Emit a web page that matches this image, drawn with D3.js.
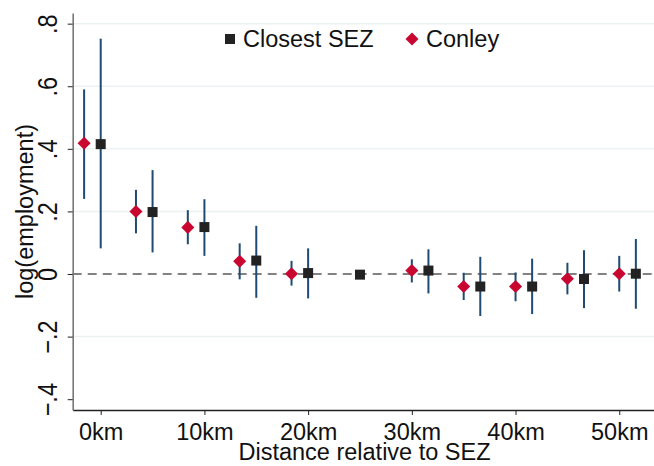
<!DOCTYPE html>
<html>
<head>
<meta charset="utf-8">
<script src="https://cdn.jsdelivr.net/npm/d3@7"></script>
<style>
  body { margin: 0; background: #fff; }
  text { font-family: "Liberation Sans", Arial, sans-serif; fill: #111; }
</style>
</head>
<body>
<div id="chart-area"></div>
<script>
// SVG Size
var width = 654,
    height = 466;

// Data
var distanceTicks = [0, 10, 20, 30, 40, 50];
var distanceLabels = ["0km", "10km", "20km", "30km", "40km", "50km"];
var yTicks = [-0.4, -0.2, 0, 0.2, 0.4, 0.6, 0.8];
var yLabels = ["\u2212.4", "\u2212.2", "0", ".2", ".4", ".6", ".8"];
var gridValues = [0.8, 0.6, 0.4, 0.2, -0.2];

// Closest SEZ (squares)
var closestX =  [0, 5, 10, 15, 20, 25, 31.6, 36.6, 41.6, 46.6, 51.6];
var closestY =  [0.415, 0.198, 0.150, 0.043, 0.003, -0.002, 0.011, -0.040, -0.040, -0.016, 0.001];
var closestLo = [0.082, 0.069, 0.058, -0.076, -0.078, null, -0.062, -0.134, -0.128, -0.109, -0.111];
var closestHi = [0.752, 0.332, 0.239, 0.154, 0.082, null, 0.079, 0.055, 0.049, 0.076, 0.112];

// Conley (diamonds)
var conleyX =  [-1.6, 3.4, 8.4, 13.4, 18.4, 30, 35, 40, 45, 50];
var conleyY =  [0.418, 0.200, 0.149, 0.041, 0.001, 0.011, -0.040, -0.040, -0.015, 0.001];
var conleyLo = [0.240, 0.130, 0.095, -0.017, -0.037, -0.027, -0.083, -0.087, -0.065, -0.056];
var conleyHi = [0.590, 0.269, 0.204, 0.098, 0.042, 0.047, 0.004, 0.005, 0.036, 0.058];

var closest = closestX.map(function (x, i) {
    return { x: x, y: closestY[i], lo: closestLo[i], hi: closestHi[i] };
});
var conley = conleyX.map(function (x, i) {
    return { x: x, y: conleyY[i], lo: conleyLo[i], hi: conleyHi[i] };
});

var plotLeft = 72.7, plotRight = 654, plotTop = 13, plotBottom = 410;

var svg = d3.select("#chart-area").append("svg")
    .attr("width", width)
    .attr("height", height);

var xScale = d3.scaleLinear()
    .domain([-2.7, 53.35])
    .range([plotLeft, plotRight]);

var yScale = d3.scaleLinear()
    .domain([-0.4345, 0.834])
    .range([plotBottom, plotTop]);

// grid
svg.selectAll("line.grid")
    .data(gridValues)
    .enter()
    .append("line")
    .attr("class", "grid")
    .attr("x1", plotLeft)
    .attr("x2", plotRight)
    .attr("y1", function (d) { return yScale(d); })
    .attr("y2", function (d) { return yScale(d); })
    .attr("stroke", "#eaf2f3")
    .attr("stroke-width", 1.5);

// zero reference line
svg.append("line")
    .attr("x1", plotLeft)
    .attr("x2", plotRight)
    .attr("y1", yScale(0))
    .attr("y2", yScale(0))
    .attr("stroke", "#5a5a5a")
    .attr("stroke-width", 1.5)
    .attr("stroke-dasharray", "9,6");

// axes
var xAxis = d3.axisBottom(xScale)
    .tickValues(distanceTicks)
    .tickFormat(function (d, i) { return distanceLabels[i]; })
    .tickSize(5)
    .tickPadding(8)
    .tickSizeOuter(0);

var gx = svg.append("g")
    .attr("class", "axis x-axis")
    .attr("transform", "translate(0," + plotBottom + ")")
    .call(xAxis);
gx.select(".domain").attr("stroke", "#222").attr("stroke-width", 1.4);
gx.selectAll(".tick line").attr("stroke", "#222");
gx.selectAll(".tick text")
    .attr("font-size", "23.5px")
    .attr("font-family", "Liberation Sans, Arial, sans-serif")
    .attr("fill", "#111");

var yAxis = d3.axisLeft(yScale)
    .tickValues(yTicks)
    .tickFormat(function (d, i) { return yLabels[i]; })
    .tickSize(5)
    .tickSizeOuter(0);

var gy = svg.append("g")
    .attr("class", "axis y-axis")
    .attr("transform", "translate(" + plotLeft + ",0)")
    .call(yAxis);
gy.select(".domain").attr("stroke", "#777").attr("stroke-width", 1.6);
gy.selectAll(".tick line").attr("stroke", "#222");
gy.selectAll(".tick text")
    .attr("font-size", "23.5px")
    .attr("font-family", "Liberation Sans, Arial, sans-serif")
    .attr("fill", "#111")
    .attr("x", null)
    .attr("dy", null)
    .attr("text-anchor", "middle")
    .attr("transform", "translate(-16,0) rotate(-90) scale(1,1.18)");

// error bars
function bars(data, cls) {
    svg.selectAll("line." + cls)
        .data(data.filter(function (d) { return d.lo !== null; }))
        .enter()
        .append("line")
        .attr("class", cls)
        .attr("x1", function (d) { return xScale(d.x); })
        .attr("x2", function (d) { return xScale(d.x); })
        .attr("y1", function (d) { return yScale(d.lo); })
        .attr("y2", function (d) { return yScale(d.hi); })
        .attr("stroke", "#1f4a73")
        .attr("stroke-width", 2);
}
bars(conley, "ci-conley");
bars(closest, "ci-closest");

// markers
var diamond = d3.symbol().type(d3.symbolSquare).size(85);

svg.selectAll("path.conley")
    .data(conley)
    .enter()
    .append("path")
    .attr("class", "conley")
    .attr("d", diamond)
    .attr("transform", function (d) {
        return "translate(" + xScale(d.x) + "," + yScale(d.y) + ") rotate(45)";
    })
    .attr("fill", "#c8062f");

svg.selectAll("rect.closest")
    .data(closest)
    .enter()
    .append("rect")
    .attr("class", "closest")
    .attr("x", function (d) { return xScale(d.x) - 5; })
    .attr("y", function (d) { return yScale(d.y) - 5; })
    .attr("width", 10)
    .attr("height", 10)
    .attr("fill", "#222");

// legend
svg.append("rect")
    .attr("x", 225)
    .attr("y", 34)
    .attr("width", 10)
    .attr("height", 10)
    .attr("fill", "#222");
svg.append("text")
    .attr("x", 243)
    .attr("y", 47)
    .attr("font-size", "23.5px")
    .text("Closest SEZ");

svg.append("path")
    .attr("d", diamond)
    .attr("transform", "translate(412,39) rotate(45)")
    .attr("fill", "#c8062f");
svg.append("text")
    .attr("x", 426)
    .attr("y", 47)
    .attr("font-size", "23.5px")
    .text("Conley");

// axis titles
svg.append("text")
    .attr("text-anchor", "middle")
    .attr("transform", "translate(33," + ((plotTop + plotBottom) / 2) + ") rotate(-90)")
    .attr("font-size", "23.5px")
    .text("log(employment)");

svg.append("text")
    .attr("text-anchor", "middle")
    .attr("x", 364.5)
    .attr("y", 460)
    .attr("font-size", "23.5px")
    .text("Distance relative to SEZ");
</script>
</body>
</html>
